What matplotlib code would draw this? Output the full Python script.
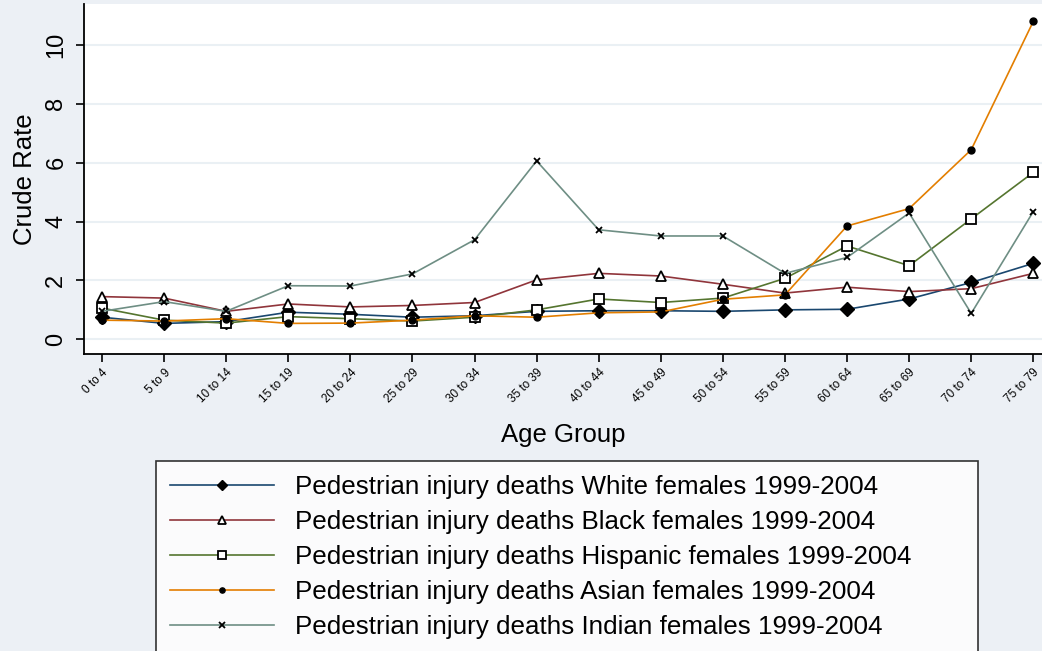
import numpy as np
import matplotlib
matplotlib.use("Agg")
import matplotlib.pyplot as plt

plt.rcParams['font.family'] = ['Liberation Sans', 'DejaVu Sans']

age_groups = ["0 to 4", "5 to 9", "10 to 14", "15 to 19", "20 to 24", "25 to 29",
              "30 to 34", "35 to 39", "40 to 44", "45 to 49", "50 to 54", "55 to 59",
              "60 to 64", "65 to 69", "70 to 74", "75 to 79"]

white = [0.75, 0.54, 0.60, 0.92, 0.85, 0.75, 0.80, 0.95, 0.97, 0.97, 0.95, 1.00, 1.02, 1.37, 1.93, 2.58]
black = [1.45, 1.40, 0.95, 1.20, 1.10, 1.15, 1.25, 2.02, 2.24, 2.15, 1.87, 1.57, 1.77, 1.62, 1.72, 2.24]
hispanic = [1.06, 0.65, 0.55, 0.77, 0.70, 0.62, 0.75, 1.00, 1.37, 1.25, 1.40, 2.07, 3.17, 2.50, 4.09, 5.67]
asian = [0.65, 0.62, 0.70, 0.54, 0.55, 0.65, 0.80, 0.75, 0.90, 0.93, 1.36, 1.51, 3.85, 4.44, 6.44, 10.80]
indian = [0.95, 1.28, 0.95, 1.82, 1.81, 2.22, 3.38, 6.06, 3.72, 3.51, 3.51, 2.24, 2.78, 4.29, 0.88, 4.34]

labels = ["Pedestrian injury deaths White females 1999-2004",
          "Pedestrian injury deaths Black females 1999-2004",
          "Pedestrian injury deaths Hispanic females 1999-2004",
          "Pedestrian injury deaths Asian females 1999-2004",
          "Pedestrian injury deaths Indian females 1999-2004"]

bg = "#ECF0F5"
fig = plt.figure(figsize=(10.42, 6.51), dpi=100, facecolor=bg)
ax = fig.add_axes([0.0806, 0.4562, 0.9194, 0.5376])
ax.set_facecolor("white")

x = np.arange(len(age_groups))
series = [
    (white, "#1A476F", dict(marker="D", ms=7, mfc="black", mec="black")),
    (black, "#90353B", dict(marker="^", ms=7, mfc="white", mec="black", mew=1.3)),
    (hispanic, "#55752F", dict(marker="s", ms=7, mfc="white", mec="black", mew=1.3)),
    (asian, "#E37E00", dict(marker="o", ms=5, mfc="black", mec="black")),
    (indian, "#6E8E84", dict(marker="x", ms=5, mec="black", mew=1.3)),
]
for (vals, col, mk), lab in zip(series, labels):
    ax.plot(x, vals, color=col, lw=1.2, label=lab, **mk)

ax.set_xlim(-0.29, 15.14)
ax.set_ylim(-0.5, 11.39)
ax.set_yticks([0, 2, 4, 6, 8, 10])
ax.set_yticklabels(["0", "2", "4", "6", "8", "10"], rotation=90, va="center", fontsize=17)
ax.set_xticks(x)
ax.set_xticklabels(age_groups, rotation=45, ha="right", rotation_mode="anchor", fontsize=8.5)
ax.tick_params(axis="y", length=6, width=1.2, pad=6)
ax.tick_params(axis="x", length=6, width=1.2, pad=3)
ax.grid(axis="y", color="#EAF0F4", lw=1.5)
ax.set_axisbelow(True)
for s in ["top", "right"]:
    ax.spines[s].set_visible(False)
for s in ["left", "bottom"]:
    ax.spines[s].set_linewidth(1.3)
ax.set_ylabel("Crude Rate", fontsize=18.5, labelpad=6)
ax.set_xlabel("Age Group", fontsize=18.5, labelpad=13)

h, l = ax.get_legend_handles_labels()
leg = fig.legend(h, l, loc="upper left", bbox_to_anchor=(0.1494, -0.2, 0.7892, 0.4919),
                 mode="expand", borderaxespad=0, fontsize=18.7, frameon=True,
                 fancybox=False, edgecolor="black", facecolor="white",
                 handlelength=4.0, handletextpad=0.8, borderpad=0.55,
                 labelspacing=0.42, markerscale=0.75)
leg.get_frame().set_linewidth(1.2)

fig.savefig("out.png", dpi=100, facecolor=bg)
